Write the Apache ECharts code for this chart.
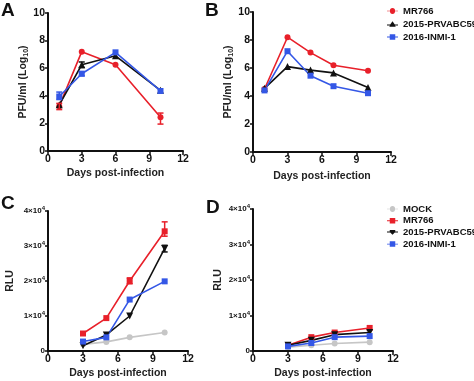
<!DOCTYPE html>
<html><head><meta charset="utf-8">
<script src="https://cdn.jsdelivr.net/npm/echarts@6/dist/echarts.min.js"></script>
<style>html,body{margin:0;padding:0;background:#fff}#c{width:474px;height:381px}</style>
</head><body><div id="c"></div>
<script>
// ---- data ----
const daysA = [1, 3, 6, 10];
const A_MR766 = [3.25, 7.2, 6.25, 2.45];
const A_2015 = [3.35, 6.25, 6.9, 4.4];
const A_2016 = [3.95, 5.6, 7.15, 4.35];
const A_MR766_err = [[1, 3.0, 3.45], [10, 1.95, 2.75]];
const A_2015_err = [[3, 6.05, 6.45]];
const A_2016_err = [[1, 3.73, 4.27], [3, 5.45, 5.75]];

const daysB = [1, 3, 5, 7, 10];
const B_MR766 = [4.5, 8.2, 7.1, 6.2, 5.8];
const B_2015 = [4.55, 6.1, 5.85, 5.65, 4.6];
const B_2016 = [4.4, 7.2, 5.45, 4.7, 4.2];

const daysCD = [3, 5, 7, 10];
const C_MOCK = [1900, 2600, 3900, 5300];
const C_MR766 = [5000, 9400, 20000, 34200];
const C_2015 = [1500, 4600, 10000, 29300];
const C_2016 = [2700, 3900, 14700, 19900];
const C_MR766_err = [[7, 19200, 20900], [10, 32800, 36900]];
const C_2015_err = [[10, 28300, 30200]];

const D_MOCK = [1100, 1600, 2100, 2500];
const D_MR766 = [1600, 3900, 5200, 6500];
const D_2015 = [1600, 3000, 4600, 5200];
const D_2016 = [1300, 2250, 3900, 4200];

const xTicks = ['0', '3', '6', '9', '12'];
const yTicksPFU = ['0', '2', '4', '6', '8', '10'];
const yTicksRLU = ['0', '1×10{s|4}', '2×10{s|4}', '3×10{s|4}', '4×10{s|4}'];
const yNamePFU = 'PFU/ml (Log{sub|10})';
const yNameRLU = 'RLU';
const xName = 'Days post-infection';
const legendAB = ['MR766', '2015-PRVABC59', '2016-INMI-1'];
const legendCD = ['MOCK', 'MR766', '2015-PRVABC59', '2016-INMI-1'];

// ---- style ----
const RED = '#e8202a', BLACK = '#111111', BLUE = '#3457e6', GRAY = '#c6c6c6';
const FONT = 'Liberation Sans, Arial, sans-serif';
const pair = (xs, ys) => xs.map((x, i) => [x, ys[i]]);

const grids = [
  { left: 48, top: 13, width: 135, height: 138 },
  { left: 253, top: 12, width: 138, height: 140 },
  { left: 48, top: 211, width: 140, height: 140 },
  { left: 253, top: 209, width: 140, height: 142 }
];

function xAx(i) {
  return {
    gridIndex: i, type: 'value', min: 0, max: 12, interval: 3,
    name: xName, nameLocation: 'middle', nameGap: i === 1 ? 19 : 17,
    nameTextStyle: { fontFamily: FONT, fontWeight: 'bold', fontSize: 10.5, color: '#222' },
    axisLine: { lineStyle: { color: '#111', width: 2 } },
    axisTick: { length: 4, lineStyle: { color: '#111', width: 1.5 } },
    axisLabel: { fontFamily: FONT, fontWeight: 'bold', fontSize: 10.5, color: '#111', margin: 3,
      formatter: v => xTicks[Math.round(v / 3)] },
    splitLine: { show: false }
  };
}
function yAx(i) {
  const rlu = i >= 2;
  return {
    gridIndex: i, type: 'value', min: 0, max: rlu ? 40000 : 10, interval: rlu ? 10000 : 2,
    name: rlu ? yNameRLU : yNamePFU, nameLocation: 'middle', nameRotate: 90,
    nameGap: [17, 14.5, 31, 28][i],
    nameTextStyle: { fontFamily: FONT, fontWeight: 'bold', fontSize: 10.5, color: '#222', lineHeight: 13,
      rich: { sub: { fontFamily: FONT, fontWeight: 'bold', fontSize: 7, color: '#222', lineHeight: 7, verticalAlign: 'bottom' } } },
    axisLine: { show: true, lineStyle: { color: '#111', width: 2 } },
    axisTick: { show: true, length: 3, lineStyle: { color: '#111', width: 1.5 } },
    axisLabel: { fontFamily: FONT, fontWeight: 'bold', fontSize: rlu ? 8 : 10.5, color: '#111', margin: 3,
      lineHeight: rlu ? 11 : 13,
      rich: { s: { fontFamily: FONT, fontWeight: 'bold', fontSize: 6, color: '#111', lineHeight: 6, verticalAlign: 'top' } },
      formatter: v => rlu ? yTicksRLU[Math.round(v / 10000)] : yTicksPFU[Math.round(v / 2)] },
    splitLine: { show: false }
  };
}

function line(name, gi, xs, ys, color, symbol, rot) {
  return {
    type: 'line', name, xAxisIndex: gi, yAxisIndex: gi, data: pair(xs, ys),
    symbol, symbolSize: symbol === 'triangle' ? 7 : 6, symbolRotate: rot || 0,
    lineStyle: { color, width: 1.6 }, itemStyle: { color },
    animation: false, z: color === GRAY ? 2 : 3
  };
}
function errRender(params, api) {
  const x = api.value(0), lo = api.value(1), hi = api.value(2);
  const p1 = api.coord([x, lo]), p2 = api.coord([x, hi]);
  const w = 3, c = api.visual('color');
  const st = { stroke: c, lineWidth: 1.5 };
  return { type: 'group', children: [
    { type: 'line', shape: { x1: p1[0], y1: p1[1], x2: p2[0], y2: p2[1] }, style: st },
    { type: 'line', shape: { x1: p1[0] - w, y1: p1[1], x2: p1[0] + w, y2: p1[1] }, style: st },
    { type: 'line', shape: { x1: p2[0] - w, y1: p2[1], x2: p2[0] + w, y2: p2[1] }, style: st }
  ]};
}
function err(gi, data, color) {
  return { type: 'custom', name: 'err' + gi + color, xAxisIndex: gi, yAxisIndex: gi,
    data, renderItem: errRender, itemStyle: { color }, animation: false, z: 4,
    encode: { x: 0, y: [1, 2] } };
}

const ICON = {
  circle: 'path://M0 2.6H3.2A2.8 2.8 0 1 1 8.8 2.6H12V3.4H8.8A2.8 2.8 0 1 1 3.2 3.4H0Z',
  rect: 'path://M0 2.5H3V0H9V2.5H12V3.5H9V6H3V3.5H0Z',
  tri: 'path://M0 3.5H3.5L6 0L8.5 3.5H12V4.5H8.8L9.5 6H2.5L3.2 4.5H0Z',
  itri: 'path://M0 2.5H3V1H9V2.5H12V3.5H8.5L6 6L3.5 3.5H0Z'
};
const legendText = { fontFamily: FONT, fontWeight: 'bold', fontSize: 9.5, color: '#111', lineHeight: 12 };

const option = {
  backgroundColor: '#fff',
  animation: false,
  grid: grids,
  xAxis: [0, 1, 2, 3].map(xAx),
  yAxis: [0, 1, 2, 3].map(yAx),
  legend: [
    { left: 387, top: 5, padding: 0, orient: 'vertical', itemWidth: 11, itemHeight: 6, itemGap: 1,
      textStyle: legendText, selectedMode: false,
      data: [
        { name: legendAB[0], icon: ICON.circle },
        { name: legendAB[1], icon: ICON.tri },
        { name: legendAB[2], icon: ICON.rect }
      ] },
    { left: 387, top: 203, padding: 0, orient: 'vertical', itemWidth: 11, itemHeight: 6, itemGap: -0.3,
      textStyle: legendText, selectedMode: false,
      data: [
        { name: legendCD[0], icon: ICON.circle },
        { name: legendCD[1], icon: ICON.rect },
        { name: legendCD[2], icon: ICON.itri },
        { name: legendCD[3], icon: ICON.rect }
      ] }
  ],
  graphic: [
    { type: 'text', left: 1, top: 1, style: { text: 'A', font: 'bold 19px ' + FONT, fill: '#111' } },
    { type: 'text', left: 205, top: 1, style: { text: 'B', font: 'bold 19px ' + FONT, fill: '#111' } },
    { type: 'text', left: 1, top: 194, style: { text: 'C', font: 'bold 19px ' + FONT, fill: '#111' } },
    { type: 'text', left: 206, top: 198, style: { text: 'D', font: 'bold 19px ' + FONT, fill: '#111' } }
  ],
  series: [
    line('MR766', 0, daysA, A_MR766, RED, 'circle'),
    line('2015-PRVABC59', 0, daysA, A_2015, BLACK, 'triangle'),
    line('2016-INMI-1', 0, daysA, A_2016, BLUE, 'rect'),
    err(0, A_MR766_err, RED), err(0, A_2015_err, BLACK), err(0, A_2016_err, BLUE),

    line('MR766', 1, daysB, B_MR766, RED, 'circle'),
    line('2015-PRVABC59', 1, daysB, B_2015, BLACK, 'triangle'),
    line('2016-INMI-1', 1, daysB, B_2016, BLUE, 'rect'),

    line('MOCK', 2, daysCD, C_MOCK, GRAY, 'circle'),
    line('MR766', 2, daysCD, C_MR766, RED, 'rect'),
    line('2015-PRVABC59', 2, daysCD, C_2015, BLACK, 'triangle', 180),
    line('2016-INMI-1', 2, daysCD, C_2016, BLUE, 'rect'),
    err(2, C_MR766_err, RED), err(2, C_2015_err, BLACK),

    line('MOCK', 3, daysCD, D_MOCK, GRAY, 'circle'),
    line('MR766', 3, daysCD, D_MR766, RED, 'rect'),
    line('2015-PRVABC59', 3, daysCD, D_2015, BLACK, 'triangle', 180),
    line('2016-INMI-1', 3, daysCD, D_2016, BLUE, 'rect')
  ]
};
const chart = echarts.init(document.getElementById('c'), null, { renderer: 'canvas' });
chart.setOption(option);
</script></body></html>
